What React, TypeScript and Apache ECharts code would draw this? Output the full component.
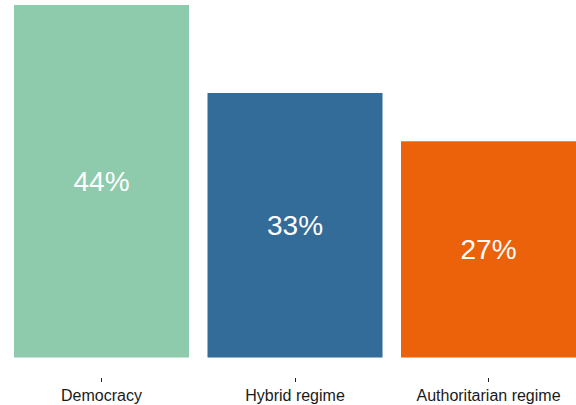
import React, { useEffect, useRef } from "react";
import * as echarts from "echarts";

const categories = ["Democracy", "Hybrid regime", "Authoritarian regime"];
const values = [44, 33, 27];
const colors = ["#8ecbad", "#336b99", "#ec620b"];

export default function App() {
  const ref = useRef<HTMLDivElement>(null);
  useEffect(() => {
    document.body.style.margin = "0";
    const chart = echarts.init(ref.current!, null, { renderer: "svg" });
    chart.setOption({
      animation: false,
      backgroundColor: "#ffffff",
      grid: { left: 4.75, width: 580.5, top: 5, bottom: 27, containLabel: false, outerBoundsMode: "none" },
      xAxis: {
        type: "category",
        data: categories,
        axisLine: { show: false, onZero: false },
        axisTick: { show: true, alignWithLabel: true, length: 4, lineStyle: { color: "#222", width: 1 } },
        axisLabel: { color: "#1a1a1a", fontSize: 16, fontFamily: "Liberation Sans", margin: 9 },
      },
      yAxis: {
        type: "value",
        min: -2.56,
        max: 44,
        show: false,
        splitLine: { show: false },
      },
      series: [
        {
          type: "bar",
          barWidth: 175,
          data: values.map((v, i) => ({ value: v, itemStyle: { color: colors[i] } })),
          label: {
            show: true,
            position: "inside",
            formatter: (p: any) => p.value + "%",
            color: "#ffffff",
            fontSize: 28,
            fontFamily: "Liberation Sans",
          },
        },
      ],
    });
    return () => chart.dispose();
  }, []);
  return (
    <div style={{ position: "absolute", left: 0, top: 0, width: 576, height: 405, overflow: "hidden", background: "#fff" }}>
      <div ref={ref} style={{ position: "absolute", left: 0, top: 0, width: 590, height: 405 }} />
    </div>
  );
}
